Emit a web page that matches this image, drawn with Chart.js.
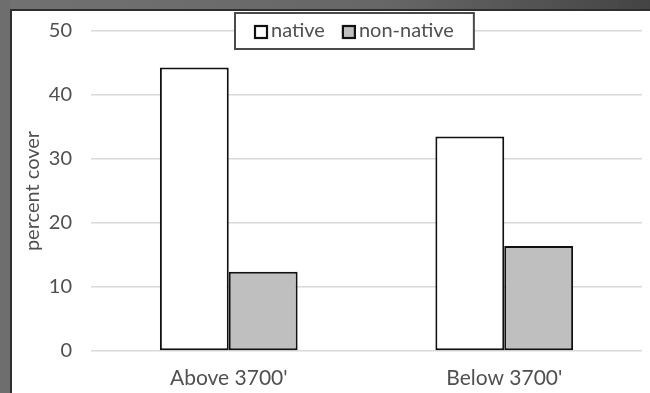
<!DOCTYPE html>
<html>
<head>
<meta charset="utf-8">
<script src="https://cdn.jsdelivr.net/npm/chart.js@4.4.1/dist/chart.umd.min.js"></script>
<style>
  html, body { margin: 0; padding: 0; }
  body { width: 650px; height: 393px; overflow: hidden; position: relative;
         background: linear-gradient(90deg, #727272 0%, #666 60%, #444 100%); }
  #frame { position: absolute; left: 10px; top: 9px; width: 640px; height: 384px;
           background: #fff; border-left: 2px solid #2e2e2e; border-top: 2px solid #2e2e2e; box-sizing: border-box; }
  #leftband { position: absolute; left: 0; top: 0; width: 10px; height: 393px; background: #6e6e6e; }
  canvas { position: absolute; left: 0; top: 0; }
</style>
</head>
<body>
<div id="leftband"></div>
<div id="frame"><canvas id="c" width="638" height="382"></canvas></div>
<script>
const categories = ["Above 3700'", "Below 3700'"];
const seriesNames = ["native", "non-native"];
const nativeValues = [44.3, 33.5];
const nonNativeValues = [12.4, 16.4];
const yTicks = [0, 10, 20, 30, 40, 50];
const yTitle = "percent cover";

const FONT = "Lato, 'Open Sans', sans-serif";
const TXT = '#505050';

const boxLegend = {
  id: 'boxLegend',
  afterDraw(chart) {
    const ctx = chart.ctx;
    const ds = chart.data.datasets;
    ctx.save();
    ctx.font = "20px " + FONT;
    const sw = 12, gapSwText = 4, gapItems = 18, padX = 20;
    const widths = ds.map(d => ctx.measureText(d.label).width);
    let total = padX * 2;
    widths.forEach((w, i) => { total += sw + gapSwText + w + (i < ds.length - 1 ? gapItems : 0); });
    const cx = 354 - 12;
    const cy = chart.scales.y.getPixelForValue(50);
    const h = 36;
    const x0 = Math.round(cx - total / 2), y0 = Math.round(cy - h / 2);
    ctx.fillStyle = '#fff';
    ctx.fillRect(x0, y0, total, h);
    ctx.strokeStyle = '#4a4a4a';
    ctx.lineWidth = 2;
    ctx.strokeRect(x0, y0, total, h);
    let x = x0 + padX;
    ds.forEach((d, i) => {
      ctx.fillStyle = d.backgroundColor;
      ctx.fillRect(x, cy - sw / 2 + 1, sw, sw);
      ctx.strokeStyle = '#111';
      ctx.lineWidth = 2.2;
      ctx.strokeRect(x, cy - sw / 2 + 1, sw, sw);
      x += sw + gapSwText;
      ctx.fillStyle = TXT;
      ctx.textBaseline = 'middle';
      ctx.textAlign = 'left';
      ctx.fillText(d.label, x, cy);
      x += widths[i] + gapItems;
    });
    ctx.restore();
  }
};

new Chart(document.getElementById('c'), {
  type: 'bar',
  data: {
    labels: categories,
    datasets: [
      { label: seriesNames[0], data: nativeValues, backgroundColor: '#ffffff',
        borderColor: '#111111', borderWidth: 2, borderSkipped: false },
      { label: seriesNames[1], data: nonNativeValues, backgroundColor: '#bfbfbf',
        borderColor: '#111111', borderWidth: 2, borderSkipped: false }
    ]
  },
  options: {
    responsive: false,
    animation: false,
    layout: { padding: { top: 20, right: 8, left: 0, bottom: 0 } },
    datasets: { bar: { categoryPercentage: 0.5, barPercentage: 1.0 } },
    plugins: { legend: { display: false }, tooltip: { enabled: false } },
    scales: {
      x: {
        grid: { display: false, drawTicks: false },
        border: { display: false },
        ticks: { color: TXT, font: { family: FONT, size: 21 }, padding: 15 },
        afterFit(s) { s.height = 42; s.paddingLeft = 0; s.paddingRight = 0; }
      },
      y: {
        min: 0, max: 50,
        afterBuildTicks(s) { s.ticks = yTicks.map(v => ({ value: v })); },
        grid: { color: '#d9d9d9', lineWidth: 1.5, drawTicks: false },
        border: { display: false },
        ticks: { color: TXT, font: { family: FONT, size: 20 }, padding: 19 },
        title: { display: true, text: yTitle, color: TXT, font: { family: FONT, size: 20 }, padding: { top: 9, bottom: 0 } },
        afterFit(s) { s.width = 79; s.paddingTop = 0; s.paddingBottom = 0; }
      }
    }
  },
  plugins: [boxLegend]
});
</script>
</body>
</html>
